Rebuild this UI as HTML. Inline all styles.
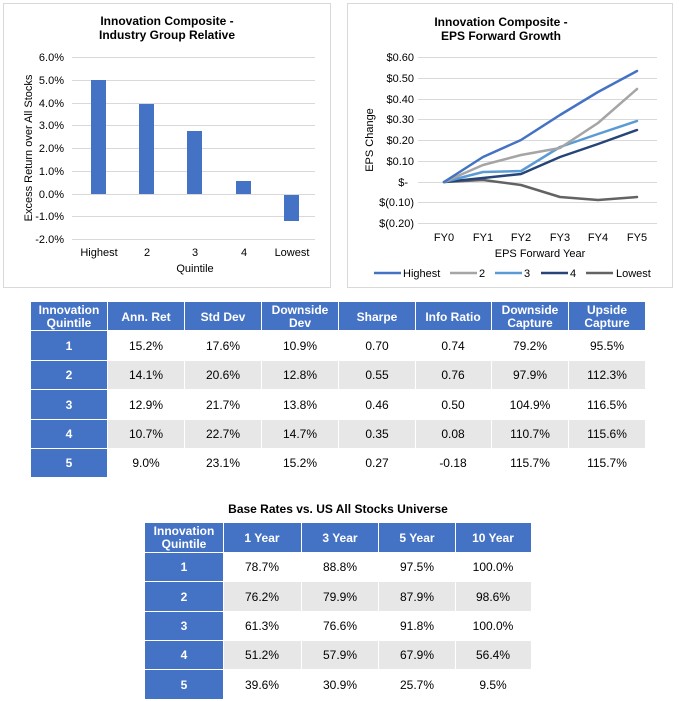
<!DOCTYPE html>
<html><head><meta charset="utf-8"><style>
html,body{margin:0;padding:0;background:#fff;}
svg{display:block;font-family:"Liberation Sans",Arial,sans-serif;}
</style></head><body>
<svg width="679" height="701" viewBox="0 0 679 701" xmlns="http://www.w3.org/2000/svg">
<rect width="679" height="701" fill="#fff"/>
<!-- Chart 1 -->
<rect x="3.5" y="3.5" width="327" height="284" fill="#fff" stroke="#d9d9d9"/>
<g font-size="12" font-weight="bold" text-anchor="middle" fill="#000">
<text x="167" y="25">Innovation Composite -</text>
<text x="167" y="39">Industry Group Relative</text>
</g>
<g stroke="#d9d9d9" stroke-width="1">
<line x1="72" x2="315" y1="57.5" y2="57.5"/><line x1="72" x2="315" y1="80.5" y2="80.5"/>
<line x1="72" x2="315" y1="103.5" y2="103.5"/><line x1="72" x2="315" y1="125.5" y2="125.5"/>
<line x1="72" x2="315" y1="148.5" y2="148.5"/><line x1="72" x2="315" y1="171.5" y2="171.5"/>
<line x1="72" x2="315" y1="194.5" y2="194.5"/><line x1="72" x2="315" y1="216.5" y2="216.5"/>
<line x1="72" x2="315" y1="239.5" y2="239.5"/>
</g>
<g font-size="11" text-anchor="end" fill="#000">
<text x="64" y="61">6.0%</text><text x="64" y="84">5.0%</text><text x="64" y="107">4.0%</text>
<text x="64" y="129">3.0%</text><text x="64" y="152">2.0%</text><text x="64" y="175">1.0%</text>
<text x="64" y="198">0.0%</text><text x="64" y="220">-1.0%</text><text x="64" y="243">-2.0%</text>
</g>
<g fill="#4472C4">
<rect x="91" y="80" width="15" height="114"/>
<rect x="139" y="104" width="15" height="90"/>
<rect x="187" y="131" width="15" height="63"/>
<rect x="236" y="181" width="15" height="13"/>
<rect x="284" y="195" width="15" height="26"/>
</g>
<g font-size="11" text-anchor="middle" fill="#000">
<text x="99" y="256">Highest</text><text x="147" y="256">2</text><text x="195" y="256">3</text>
<text x="244" y="256">4</text><text x="292" y="256">Lowest</text>
<text x="195" y="272">Quintile</text>
<text transform="translate(32,148) rotate(-90)">Excess Return over All Stocks</text>
</g>
<!-- Chart 2 -->
<rect x="347.5" y="3.5" width="325" height="284" fill="#fff" stroke="#d9d9d9"/>
<g font-size="12" font-weight="bold" text-anchor="middle" fill="#000">
<text x="501" y="26">Innovation Composite -</text>
<text x="501" y="40">EPS Forward Growth</text>
</g>
<g stroke="#d9d9d9" stroke-width="1">
<line x1="418" x2="657" y1="57.5" y2="57.5"/><line x1="418" x2="657" y1="78.5" y2="78.5"/>
<line x1="418" x2="657" y1="99.5" y2="99.5"/><line x1="418" x2="657" y1="119.5" y2="119.5"/>
<line x1="418" x2="657" y1="140.5" y2="140.5"/><line x1="418" x2="657" y1="161.5" y2="161.5"/>
<line x1="418" x2="657" y1="182.5" y2="182.5"/><line x1="418" x2="657" y1="202.5" y2="202.5"/>
<line x1="418" x2="657" y1="223.5" y2="223.5"/>
</g>
<g font-size="11" text-anchor="end" fill="#000">
<text x="414" y="61">$0.60</text><text x="414" y="82">$0.50</text><text x="414" y="103">$0.40</text>
<text x="414" y="123">$0.30</text><text x="414" y="144">$0.20</text><text x="414" y="165">$0.10</text>
<text x="408" y="186">$-</text><text x="414" y="206">$(0.10)</text><text x="414" y="227">$(0.20)</text>
</g>
<g fill="none" stroke-width="2.5" stroke-linejoin="round" stroke-linecap="round">
<polyline stroke="#636363" points="444,182 483,180 521,185 560,197 598,200 637,197"/>
<polyline stroke="#264478" points="444,182 483,178 521,174 560,157 598,144 637,130"/>
<polyline stroke="#5B9BD5" points="444,182 483,172 521,171 560,147 598,134 637,121"/>
<polyline stroke="#A5A5A5" points="444,182 483,165 521,155 560,148 598,123 637,89"/>
<polyline stroke="#4472C4" points="444,182 483,157 521,140 560,115 598,92 637,71"/>
</g>
<g font-size="11" text-anchor="middle" fill="#000">
<text x="444" y="241">FY0</text><text x="483" y="241">FY1</text><text x="521" y="241">FY2</text>
<text x="560" y="241">FY3</text><text x="598" y="241">FY4</text><text x="637" y="241">FY5</text>
<text x="540" y="257">EPS Forward Year</text>
<text transform="translate(373,140) rotate(-90)">EPS Change</text>
</g>
<g stroke-width="2.5">
<line x1="374" x2="401" y1="273" y2="273" stroke="#4472C4"/>
<line x1="450" x2="477" y1="273" y2="273" stroke="#A5A5A5"/>
<line x1="495" x2="522" y1="273" y2="273" stroke="#5B9BD5"/>
<line x1="541" x2="568" y1="273" y2="273" stroke="#264478"/>
<line x1="586" x2="613" y1="273" y2="273" stroke="#636363"/>
</g>
<g font-size="11" fill="#000">
<text x="403" y="277">Highest</text><text x="479" y="277">2</text><text x="524" y="277">3</text>
<text x="570" y="277">4</text><text x="616" y="277">Lowest</text>
</g>
<!-- Table 1 -->
<g fill="#4472C4">
<rect x="31" y="302" width="76" height="28"/><rect x="108" y="302" width="76" height="28"/>
<rect x="185" y="302" width="76" height="28"/><rect x="262" y="302" width="76" height="28"/>
<rect x="339" y="302" width="76" height="28"/><rect x="416" y="302" width="75" height="28"/>
<rect x="492" y="302" width="76" height="28"/><rect x="569" y="302" width="76" height="28"/>
<rect x="31" y="331" width="76" height="29"/><rect x="31" y="361" width="76" height="28"/>
<rect x="31" y="390" width="76" height="29"/><rect x="31" y="420" width="76" height="28"/>
<rect x="31" y="449" width="76" height="28"/>
</g>
<g fill="#e7e7e7">
<rect x="108" y="361" width="76" height="28"/><rect x="185" y="361" width="76" height="28"/>
<rect x="262" y="361" width="76" height="28"/><rect x="339" y="361" width="76" height="28"/>
<rect x="416" y="361" width="75" height="28"/><rect x="492" y="361" width="76" height="28"/>
<rect x="569" y="361" width="76" height="28"/>
<rect x="108" y="420" width="76" height="28"/><rect x="185" y="420" width="76" height="28"/>
<rect x="262" y="420" width="76" height="28"/><rect x="339" y="420" width="76" height="28"/>
<rect x="416" y="420" width="75" height="28"/><rect x="492" y="420" width="76" height="28"/>
<rect x="569" y="420" width="76" height="28"/>
</g>
<g font-size="12" font-weight="bold" fill="#fff" text-anchor="middle">
<text x="69" y="314">Innovation</text><text x="69" y="327">Quintile</text>
<text x="146" y="321">Ann. Ret</text><text x="223" y="321">Std Dev</text>
<text x="300" y="314">Downside</text><text x="300" y="327">Dev</text>
<text x="377" y="321">Sharpe</text><text x="453" y="321">Info Ratio</text>
<text x="530" y="314">Downside</text><text x="530" y="327">Capture</text>
<text x="607" y="314">Upside</text><text x="607" y="327">Capture</text>
<text x="69" y="350">1</text><text x="69" y="379">2</text><text x="69" y="409">3</text>
<text x="69" y="438">4</text><text x="69" y="467">5</text>
</g>
<g font-size="12" fill="#000" text-anchor="middle">
<text x="146" y="350">15.2%</text><text x="223" y="350">17.6%</text><text x="300" y="350">10.9%</text><text x="377" y="350">0.70</text><text x="453" y="350">0.74</text><text x="530" y="350">79.2%</text><text x="607" y="350">95.5%</text>
<text x="146" y="379">14.1%</text><text x="223" y="379">20.6%</text><text x="300" y="379">12.8%</text><text x="377" y="379">0.55</text><text x="453" y="379">0.76</text><text x="530" y="379">97.9%</text><text x="607" y="379">112.3%</text>
<text x="146" y="409">12.9%</text><text x="223" y="409">21.7%</text><text x="300" y="409">13.8%</text><text x="377" y="409">0.46</text><text x="453" y="409">0.50</text><text x="530" y="409">104.9%</text><text x="607" y="409">116.5%</text>
<text x="146" y="438">10.7%</text><text x="223" y="438">22.7%</text><text x="300" y="438">14.7%</text><text x="377" y="438">0.35</text><text x="453" y="438">0.08</text><text x="530" y="438">110.7%</text><text x="607" y="438">115.6%</text>
<text x="146" y="467">9.0%</text><text x="223" y="467">23.1%</text><text x="300" y="467">15.2%</text><text x="377" y="467">0.27</text><text x="453" y="467">-0.18</text><text x="530" y="467">115.7%</text><text x="607" y="467">115.7%</text>
</g>
<!-- Table 2 -->
<text x="338" y="513" font-size="12" font-weight="bold" text-anchor="middle" fill="#000">Base Rates vs. US All Stocks Universe</text>
<g fill="#4472C4">
<rect x="145" y="523" width="78" height="29"/><rect x="224" y="523" width="77" height="29"/>
<rect x="302" y="523" width="76" height="29"/><rect x="379" y="523" width="76" height="29"/>
<rect x="456" y="523" width="75" height="29"/>
<rect x="145" y="553" width="78" height="28"/><rect x="145" y="582" width="78" height="29"/>
<rect x="145" y="612" width="78" height="28"/><rect x="145" y="641" width="78" height="28"/>
<rect x="145" y="670" width="78" height="29"/>
</g>
<g fill="#e7e7e7">
<rect x="224" y="582" width="77" height="29"/><rect x="302" y="582" width="76" height="29"/>
<rect x="379" y="582" width="76" height="29"/><rect x="456" y="582" width="75" height="29"/>
<rect x="224" y="641" width="77" height="28"/><rect x="302" y="641" width="76" height="28"/>
<rect x="379" y="641" width="76" height="28"/><rect x="456" y="641" width="75" height="28"/>
</g>
<g font-size="12" font-weight="bold" fill="#fff" text-anchor="middle">
<text x="184" y="535">Innovation</text><text x="184" y="548">Quintile</text>
<text x="262" y="542">1 Year</text><text x="340" y="542">3 Year</text>
<text x="417" y="542">5 Year</text><text x="493" y="542">10 Year</text>
<text x="184" y="571">1</text><text x="184" y="601">2</text><text x="184" y="630">3</text>
<text x="184" y="659">4</text><text x="184" y="689">5</text>
</g>
<g font-size="12" fill="#000" text-anchor="middle">
<text x="262" y="571">78.7%</text><text x="340" y="571">88.8%</text><text x="417" y="571">97.5%</text><text x="493" y="571">100.0%</text>
<text x="262" y="601">76.2%</text><text x="340" y="601">79.9%</text><text x="417" y="601">87.9%</text><text x="493" y="601">98.6%</text>
<text x="262" y="630">61.3%</text><text x="340" y="630">76.6%</text><text x="417" y="630">91.8%</text><text x="493" y="630">100.0%</text>
<text x="262" y="659">51.2%</text><text x="340" y="659">57.9%</text><text x="417" y="659">67.9%</text><text x="493" y="659">56.4%</text>
<text x="262" y="689">39.6%</text><text x="340" y="689">30.9%</text><text x="417" y="689">25.7%</text><text x="493" y="689">9.5%</text>
</g>
</svg>
</body></html>
